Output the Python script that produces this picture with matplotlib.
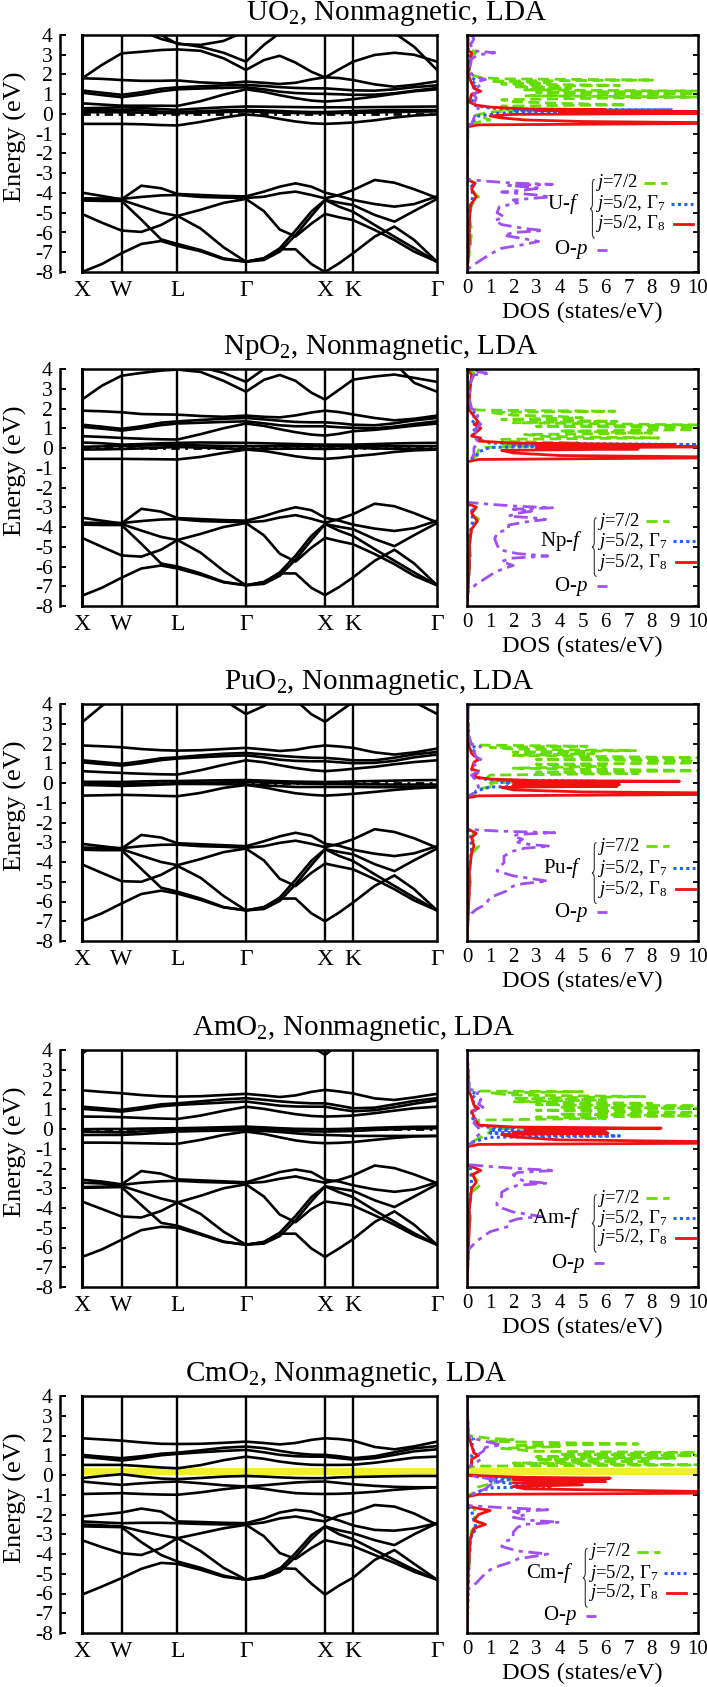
import matplotlib.pyplot as plt
from matplotlib.path import Path
from matplotlib.patches import PathPatch

plt.rcParams['font.family'] = ['Liberation Serif', 'DejaVu Serif']
plt.rcParams['mathtext.fontset'] = 'custom'
plt.rcParams['mathtext.rm'] = 'Liberation Serif'
plt.rcParams['mathtext.it'] = 'Liberation Serif:italic'
plt.rcParams['axes.unicode_minus'] = False

# k path X-W-L-G-X-K-G (2pi/a), sample points used for every band
KPTS = [0.0, 0.25, 0.5, 0.75, 1.0, 1.207, 1.5, 1.79, 2.073, 2.3,
        2.5, 2.7, 2.9, 3.073, 3.25, 3.427, 3.7, 3.95, 4.2, 4.488]
KSYM = [0.0, 0.5, 1.207, 2.073, 3.073, 3.427, 4.488]
KLAB = ['X', 'W', 'L', 'Γ', 'X', 'K', 'Γ']

TITLES = ['UO$_2$, Nonmagnetic, LDA', 'NpO$_2$, Nonmagnetic, LDA',
          'PuO$_2$, Nonmagnetic, LDA', 'AmO$_2$, Nonmagnetic, LDA',
          'CmO$_2$, Nonmagnetic, LDA']
ELEMS = ['U', 'Np', 'Pu', 'Am', 'Cm']
CM_GAP = (0.0, 0.37)

# ---------------- UO2 ----------------
UO2_VB = [
    [-3.98, -4.15, -4.32, -3.63, -3.76, -4.05, -4.10, -4.15, -4.17, -3.93, -3.68, -3.51, -3.68, -3.98, -4.15, -4.35, -4.56, -4.69, -4.56, -4.17],
    [-4.27, -4.28, -4.30, -4.20, -4.12, -4.10, -4.20, -4.23, -4.25, -4.19, -4.02, -3.93, -4.10, -4.27, -4.10, -3.85, -3.34, -3.48, -3.81, -4.25],
    [-4.35, -4.36, -4.35, -4.68, -5.00, -5.16, -4.85, -4.50, -4.30, -4.92, -5.85, -6.20, -5.55, -5.06, -5.23, -5.37, -5.87, -6.38, -6.97, -7.48],
    [-4.38, -4.40, -4.40, -5.35, -6.35, -6.58, -6.89, -7.31, -7.48, -7.31, -6.80, -5.90, -4.94, -4.35, -4.49, -4.61, -5.11, -5.45, -4.91, -4.30],
    [-5.06, -5.50, -5.90, -5.97, -5.62, -5.16, -5.80, -6.75, -7.48, -7.39, -6.97, -6.13, -5.16, -4.35, -4.69, -4.95, -5.62, -6.21, -6.80, -7.48],
    [-8.00, -7.60, -7.05, -6.58, -6.43, -6.68, -6.95, -7.35, -7.48, -7.30, -6.85, -6.85, -7.60, -8.00, -7.56, -7.05, -6.21, -5.70, -6.38, -7.48],
]
UO2_FB = [
    [1.81, 1.78, 1.72, 1.68, 1.68, 1.70, 1.60, 1.55, 1.64, 1.58, 1.52, 1.58, 1.75, 1.86, 1.82, 1.72, 1.50, 1.38, 1.48, 1.65],
    [1.19, 1.08, 0.97, 1.10, 1.28, 1.35, 1.40, 1.45, 1.47, 1.42, 1.36, 1.32, 1.30, 1.30, 1.25, 1.20, 1.18, 1.25, 1.36, 1.45],
    [1.08, 0.96, 0.85, 0.98, 1.15, 1.25, 1.29, 1.32, 1.35, 1.25, 1.13, 1.06, 1.03, 1.02, 1.00, 0.97, 0.98, 1.05, 1.18, 1.32],
    [0.54, 0.48, 0.42, 0.42, 0.42, 0.41, 0.65, 0.98, 1.25, 1.12, 0.95, 0.80, 0.68, 0.63, 0.68, 0.75, 0.88, 1.02, 1.15, 1.25],
    [0.29, 0.31, 0.34, 0.30, 0.25, 0.21, 0.28, 0.34, 0.38, 0.37, 0.36, 0.35, 0.34, 0.34, 0.34, 0.34, 0.35, 0.36, 0.37, 0.38],
    [0.20, 0.20, 0.20, 0.18, 0.12, 0.10, 0.14, 0.18, 0.20, 0.18, 0.15, 0.12, 0.10, 0.10, 0.12, 0.15, 0.18, 0.20, 0.20, 0.20],
    [0.09, 0.09, 0.09, 0.07, 0.05, 0.04, 0.06, 0.10, 0.13, 0.10, 0.07, 0.05, 0.04, 0.04, 0.05, 0.06, 0.08, 0.10, 0.12, 0.13],
    [-0.50, -0.50, -0.50, -0.52, -0.56, -0.58, -0.40, -0.18, -0.02, -0.10, -0.25, -0.38, -0.47, -0.50, -0.47, -0.43, -0.32, -0.18, -0.08, -0.02],
]
UO2_CB = [
    [1.80, 2.48, 3.07, 3.15, 3.24, 3.27, 3.20, 2.82, 2.23, 2.73, 2.95, 2.60, 2.14, 1.85, 2.26, 2.65, 2.99, 3.10, 3.00, 2.65],
    [5.20, 5.00, 4.70, 4.20, 3.80, 3.58, 3.40, 3.10, 2.65, 3.50, 4.10, 4.80, 5.10, 5.20, 5.00, 4.80, 4.50, 4.10, 3.40, 2.23],
    [6.00, 5.60, 5.20, 4.60, 4.00, 3.54, 3.50, 3.70, 4.20, 4.80, 5.30, 5.60, 5.80, 6.00, 5.80, 5.50, 5.00, 4.60, 4.30, 4.20],
]
UO2_J72 = [(4.0, 0.05), (3.3, 0.1), (3.1, 0.4), (2.9, 0.1), (2.0, 0.1), (1.85, 0.6), (1.78, 1.5), (1.72, 8.1),
           (1.66, 1.0), (1.58, 3.6), (1.52, 1.5), (1.45, 6.6), (1.38, 2.0), (1.30, 4.5), (1.22, 2.5), (1.16, 10.5),
           (1.10, 3.0), (1.04, 10.5), (0.98, 8.4), (0.92, 2.5), (0.86, 10.5), (0.80, 5.8), (0.72, 1.5), (0.62, 2.0),
           (0.54, 4.0), (0.46, 6.9), (0.40, 1.5), (0.32, 2.5), (0.25, 1.5), (0.20, 4.7), (0.12, 1.2), (0.05, 0.8),
           (-0.05, 0.4), (-0.3, 1.0), (-0.45, 0.3), (-0.6, 0.05), (-3.3, 0.0), (-3.5, 0.3), (-3.8, 0.15), (-4.2, 0.5),
           (-4.6, 0.2), (-5.2, 0.1), (-5.9, 0.2), (-6.6, 0.15), (-7.5, 0.05), (-8.0, 0.0)]
UO2_G7 = [(4.0, 0.0), (3.2, 0.05), (1.9, 0.1), (1.7, 0.4), (1.5, 0.2), (1.3, 0.5), (1.1, 0.3), (0.8, 0.2),
          (0.45, 0.3), (0.3, 1.0), (0.24, 2.5), (0.21, 8.9), (0.18, 2.0), (0.12, 4.5), (0.05, 1.5), (-0.1, 0.5),
          (-0.3, 0.3), (-0.5, 0.2), (-0.65, 0.0), (-3.3, 0.0), (-3.6, 0.2), (-4.2, 0.25), (-5.0, 0.1), (-6.5, 0.1),
          (-8.0, 0.0)]
UO2_G8 = [(4.0, 0.0), (3.2, 0.05), (3.1, 0.2), (2.0, 0.05), (1.7, 0.15), (1.3, 0.3), (1.15, 0.6), (1.0, 0.2),
          (0.6, 0.1), (0.45, 0.4), (0.35, 1.0), (0.26, 2.5), (0.22, 6.0), (0.18, 3.0), (0.12, 10.5), (0.08, 4.0),
          (0.03, 10.5), (-0.02, 2.0), (-0.10, 1.0), (-0.2, 1.5), (-0.3, 2.5), (-0.38, 5.0), (-0.44, 10.5),
          (-0.48, 10.5), (-0.55, 0.5), (-0.65, 0.0), (-3.3, 0.0), (-3.5, 0.35), (-3.8, 0.2), (-4.2, 0.4),
          (-4.6, 0.15), (-5.5, 0.1), (-6.5, 0.1), (-8.0, 0.0)]
UO2_OP = [(4.0, 0.2), (3.8, 0.3), (3.5, 0.15), (3.2, 0.3), (3.1, 1.2), (3.0, 0.5), (2.8, 0.2), (2.2, 0.1),
          (1.9, 0.3), (1.75, 0.8), (1.65, 0.5), (1.5, 0.6), (1.3, 0.4), (1.15, 0.5), (1.0, 0.3), (0.8, 0.4),
          (0.5, 0.3), (0.3, 0.5), (0.1, 0.4), (-0.2, 0.3), (-0.5, 0.2), (-0.6, 0.0), (-3.3, 0.0), (-3.4, 0.8),
          (-3.5, 2.0), (-3.56, 3.7), (-3.62, 1.8), (-3.75, 3.2), (-3.85, 2.5), (-3.95, 1.5), (-4.1, 3.0),
          (-4.2, 3.6), (-4.35, 2.0), (-4.5, 2.2), (-4.7, 1.4), (-5.0, 1.3), (-5.2, 1.6), (-5.4, 1.2), (-5.6, 1.5),
          (-5.8, 2.5), (-5.9, 3.3), (-6.0, 2.0), (-6.15, 1.6), (-6.3, 2.4), (-6.45, 3.1), (-6.6, 2.5), (-6.8, 1.5),
          (-7.1, 1.0), (-7.4, 0.6), (-7.7, 0.2), (-7.9, 0.0)]

# ---------------- NpO2 ----------------
NPO2_VB = [
    [-3.53, -3.68, -3.82, -3.08, -3.22, -3.55, -3.60, -3.65, -3.68, -3.45, -3.20, -3.00, -3.15, -3.53, -3.68, -3.88, -4.08, -4.20, -4.06, -3.68],
    [-3.78, -3.79, -3.80, -3.70, -3.62, -3.60, -3.70, -3.73, -3.76, -3.70, -3.52, -3.40, -3.58, -3.78, -3.60, -3.35, -2.82, -2.95, -3.30, -3.76],
    [-3.85, -3.86, -3.85, -4.18, -4.50, -4.66, -4.35, -4.00, -3.80, -4.42, -5.35, -5.75, -5.05, -4.55, -4.72, -4.87, -5.37, -5.88, -6.47, -6.95],
    [-3.88, -3.90, -3.90, -4.85, -5.85, -6.00, -6.35, -6.78, -6.95, -6.80, -6.30, -5.45, -4.45, -3.85, -3.99, -4.11, -4.61, -4.97, -4.41, -3.80],
    [-4.55, -5.00, -5.44, -5.50, -5.15, -4.66, -5.30, -6.22, -6.95, -6.88, -6.47, -5.65, -4.66, -3.85, -4.19, -4.45, -5.12, -5.71, -6.30, -6.95],
    [-7.48, -7.08, -6.57, -6.10, -5.95, -6.10, -6.42, -6.80, -6.95, -6.78, -6.35, -6.35, -7.08, -7.45, -7.04, -6.55, -5.71, -5.15, -5.85, -6.95],
]
NPO2_FB = [
    [1.89, 1.86, 1.81, 1.72, 1.70, 1.69, 1.62, 1.58, 1.64, 1.58, 1.55, 1.65, 1.80, 1.89, 1.82, 1.70, 1.52, 1.40, 1.48, 1.64],
    [1.18, 1.08, 0.97, 1.10, 1.28, 1.35, 1.42, 1.48, 1.52, 1.45, 1.38, 1.32, 1.30, 1.30, 1.25, 1.18, 1.15, 1.25, 1.40, 1.52],
    [1.07, 0.98, 0.88, 1.00, 1.16, 1.24, 1.28, 1.32, 1.35, 1.25, 1.15, 1.10, 1.10, 1.10, 1.05, 1.02, 1.00, 1.08, 1.22, 1.35],
    [0.60, 0.56, 0.51, 0.47, 0.44, 0.43, 0.70, 1.00, 1.24, 1.12, 0.95, 0.80, 0.68, 0.63, 0.72, 0.85, 0.92, 1.02, 1.13, 1.24],
    [0.28, 0.24, 0.17, 0.20, 0.24, 0.26, 0.28, 0.27, 0.26, 0.24, 0.22, 0.20, 0.18, 0.17, 0.17, 0.17, 0.20, 0.23, 0.25, 0.26],
    [0.06, 0.08, 0.10, 0.12, 0.14, 0.15, 0.13, 0.11, 0.09, 0.09, 0.09, 0.09, 0.09, 0.09, 0.10, 0.12, 0.10, 0.09, 0.09, 0.09],
    [-0.08, -0.07, -0.05, -0.02, 0.02, 0.05, 0.02, -0.02, -0.05, -0.05, -0.04, -0.03, -0.04, -0.05, -0.03, 0.00, -0.02, -0.04, -0.05, -0.05],
    [-0.55, -0.55, -0.55, -0.56, -0.57, -0.58, -0.45, -0.25, -0.08, -0.15, -0.28, -0.42, -0.52, -0.55, -0.50, -0.42, -0.32, -0.20, -0.12, -0.08],
]
NPO2_CB = [
    [2.45, 3.15, 3.66, 3.80, 3.92, 3.97, 3.85, 3.40, 2.85, 3.45, 3.70, 3.40, 2.80, 2.45, 2.95, 3.46, 3.62, 3.72, 3.55, 3.35],
    [5.80, 5.50, 5.20, 4.80, 4.50, 4.30, 4.10, 3.80, 3.35, 4.00, 4.60, 5.00, 5.50, 5.80, 5.50, 5.20, 4.80, 4.30, 3.30, 2.85],
]
NPO2_J72 = [(4.0, 0.05), (3.8, 0.3), (3.6, 0.1), (2.0, 0.1), (1.92, 0.5), (1.86, 6.4), (1.8, 1.0), (1.66, 2.0),
            (1.6, 4.0), (1.52, 5.0), (1.45, 1.5), (1.35, 6.5), (1.28, 2.0), (1.16, 10.5), (1.10, 3.0), (1.02, 10.5),
            (0.93, 10.5), (0.86, 4.0), (0.76, 8.0), (0.68, 2.5), (0.58, 3.5), (0.51, 8.3), (0.44, 1.5), (0.32, 2.0),
            (0.26, 4.8), (0.18, 1.5), (0.10, 4.0), (0.03, 0.8), (-0.1, 0.5), (-0.4, 0.4), (-0.55, 0.2), (-0.65, 0.0),
            (-2.8, 0.0), (-3.0, 0.4), (-3.3, 0.2), (-3.6, 0.5), (-4.0, 0.2), (-4.6, 0.1), (-5.5, 0.15), (-6.0, 0.1),
            (-7.0, 0.05), (-8.0, 0.0)]
NPO2_G7 = [(4.0, 0.0), (1.9, 0.1), (1.75, 0.4), (1.4, 0.2), (1.1, 0.5), (0.8, 0.2), (0.5, 0.3), (0.25, 1.0),
           (0.17, 10.5), (0.13, 2.0), (0.10, 4.2), (0.03, 1.0), (-0.2, 0.5), (-0.45, 0.4), (-0.6, 0.0), (-2.8, 0.0),
           (-3.1, 0.2), (-3.7, 0.25), (-4.5, 0.1), (-6.0, 0.1), (-8.0, 0.0)]
NPO2_G8 = [(4.0, 0.0), (3.7, 0.2), (2.0, 0.05), (1.3, 0.5), (1.2, 0.3), (1.0, 0.6), (0.6, 0.2), (0.5, 0.6),
           (0.35, 0.5), (0.25, 2.0), (0.17, 9.0), (0.12, 3.0), (0.06, 10.5), (0.0, 3.0), (-0.05, 7.4), (-0.12, 1.5),
           (-0.25, 2.0), (-0.38, 4.0), (-0.45, 10.5), (-0.5, 10.5), (-0.58, 0.5), (-0.7, 0.0), (-2.8, 0.0),
           (-3.0, 0.4), (-3.3, 0.2), (-3.7, 0.45), (-4.1, 0.2), (-5.0, 0.1), (-6.0, 0.1), (-8.0, 0.0)]
NPO2_OP = [(4.0, 0.3), (3.85, 0.5), (3.78, 1.0), (3.7, 0.3), (3.3, 0.15), (2.5, 0.1), (2.0, 0.2), (1.8, 0.5),
           (1.4, 0.4), (1.2, 0.6), (1.0, 0.4), (0.6, 0.3), (0.3, 0.5), (0.0, 0.3), (-0.3, 0.3), (-0.55, 0.2),
           (-0.65, 0.0), (-2.75, 0.0), (-2.85, 1.0), (-2.95, 2.2), (-3.03, 3.7), (-3.1, 2.0), (-3.2, 2.8),
           (-3.3, 2.2), (-3.45, 1.8), (-3.55, 3.0), (-3.62, 3.4), (-3.75, 2.5), (-3.9, 1.8), (-4.1, 1.8),
           (-4.3, 1.3), (-4.6, 1.2), (-4.9, 1.3), (-5.15, 1.4), (-5.35, 2.2), (-5.47, 3.5), (-5.58, 1.9),
           (-5.75, 1.5), (-5.95, 2.0), (-6.1, 1.6), (-6.3, 1.2), (-6.6, 0.8), (-6.9, 0.4), (-7.2, 0.1), (-7.4, 0.0)]

# ---------------- PuO2 ----------------
PUO2_VB = [
    [-3.08, -3.20, -3.32, -2.63, -2.76, -3.05, -3.10, -3.15, -3.20, -2.95, -2.70, -2.52, -2.68, -3.08, -3.18, -3.38, -3.58, -3.70, -3.56, -3.20],
    [-3.27, -3.28, -3.30, -3.20, -3.13, -3.12, -3.20, -3.23, -3.28, -3.20, -3.03, -2.92, -3.08, -3.25, -3.08, -2.85, -2.34, -2.48, -2.80, -3.28],
    [-3.35, -3.36, -3.35, -3.68, -4.00, -4.16, -3.85, -3.50, -3.32, -3.92, -4.85, -5.22, -4.55, -4.08, -4.23, -4.37, -4.87, -5.38, -5.95, -6.45],
    [-3.38, -3.40, -3.40, -4.35, -5.30, -5.50, -5.85, -6.28, -6.45, -6.30, -5.80, -4.90, -3.94, -3.35, -3.49, -3.61, -4.11, -4.46, -3.91, -3.32],
    [-4.12, -4.55, -4.97, -5.00, -4.65, -4.20, -4.80, -5.72, -6.45, -6.38, -5.97, -5.13, -4.16, -3.35, -3.69, -3.95, -4.62, -5.21, -5.80, -6.45],
    [-7.00, -6.60, -6.10, -5.62, -5.45, -5.60, -5.92, -6.30, -6.45, -6.28, -5.85, -5.85, -6.60, -7.00, -6.56, -6.05, -5.21, -4.68, -5.38, -6.45],
]
PUO2_FB = [
    [1.90, 1.86, 1.81, 1.72, 1.66, 1.64, 1.66, 1.72, 1.78, 1.70, 1.62, 1.68, 1.82, 1.90, 1.85, 1.78, 1.55, 1.44, 1.55, 1.74],
    [1.15, 1.06, 0.97, 1.10, 1.25, 1.30, 1.40, 1.48, 1.52, 1.45, 1.38, 1.32, 1.28, 1.27, 1.22, 1.15, 1.15, 1.28, 1.45, 1.57],
    [1.05, 0.96, 0.88, 1.00, 1.16, 1.24, 1.30, 1.36, 1.40, 1.30, 1.18, 1.12, 1.10, 1.10, 1.05, 1.00, 1.02, 1.12, 1.30, 1.44],
    [0.60, 0.55, 0.51, 0.47, 0.44, 0.43, 0.65, 0.92, 1.15, 1.05, 0.90, 0.76, 0.65, 0.60, 0.65, 0.72, 0.82, 0.95, 1.06, 1.15],
    [0.06, 0.06, 0.05, 0.08, 0.10, 0.10, 0.12, 0.14, 0.15, 0.12, 0.09, 0.07, 0.06, 0.05, 0.06, 0.08, 0.10, 0.12, 0.14, 0.15],
    [-0.05, -0.05, -0.05, -0.04, -0.03, -0.02, 0.00, 0.03, 0.05, 0.03, 0.00, -0.02, -0.04, -0.05, -0.05, -0.06, -0.07, -0.08, -0.08, -0.08],
    [-0.10, -0.12, -0.15, -0.12, -0.08, -0.05, -0.05, -0.06, -0.08, -0.12, -0.16, -0.20, -0.20, -0.20, -0.20, -0.20, -0.21, -0.21, -0.21, -0.21],
    [-0.64, -0.62, -0.60, -0.62, -0.65, -0.67, -0.50, -0.25, -0.10, -0.22, -0.38, -0.52, -0.60, -0.64, -0.60, -0.55, -0.45, -0.35, -0.27, -0.21],
]
PUO2_CB = [
    [3.07, 3.90, 4.60, 4.90, 5.00, 5.00, 4.70, 4.20, 3.49, 3.90, 4.40, 4.20, 3.48, 3.10, 3.60, 4.10, 4.50, 4.50, 4.10, 3.50],
]
PUO2_J72 = [(4.0, 0.0), (2.0, 0.1), (1.92, 0.5), (1.86, 5.2), (1.8, 1.0), (1.72, 2.0), (1.64, 7.3), (1.56, 2.0),
            (1.48, 5.5), (1.40, 2.0), (1.27, 10.5), (1.20, 3.0), (1.10, 10.5), (1.02, 10.5), (0.95, 3.0), (0.85, 6.0),
            (0.75, 2.0), (0.62, 10.5), (0.55, 3.0), (0.48, 7.4), (0.40, 1.0), (0.2, 0.8), (0.12, 1.5), (0.08, 3.0),
            (0.0, 1.0), (-0.15, 1.2), (-0.3, 0.5), (-0.6, 0.3), (-0.7, 0.0), (-2.3, 0.0), (-2.5, 0.3), (-2.8, 0.2),
            (-3.2, 0.5), (-3.6, 0.2), (-4.5, 0.1), (-5.0, 0.15), (-6.0, 0.05), (-8.0, 0.0)]
PUO2_G7 = [(4.0, 0.0), (1.9, 0.1), (1.8, 0.4), (1.5, 0.2), (1.2, 0.5), (0.8, 0.2), (0.3, 0.3), (0.15, 1.0),
           (0.09, 5.6), (0.04, 1.5), (-0.05, 2.0), (-0.12, 5.9), (-0.2, 1.0), (-0.4, 0.4), (-0.6, 0.3), (-0.7, 0.0),
           (-2.3, 0.0), (-2.6, 0.15), (-3.3, 0.2), (-4.5, 0.1), (-8.0, 0.0)]
PUO2_G8 = [(4.0, 0.0), (2.0, 0.05), (1.5, 0.2), (1.2, 0.5), (1.05, 0.3), (0.7, 0.2), (0.6, 0.5), (0.3, 0.3),
           (0.2, 1.0), (0.12, 3.0), (0.09, 9.2), (0.04, 2.0), (-0.02, 4.0), (-0.08, 6.6), (-0.12, 2.0), (-0.16, 6.5),
           (-0.22, 1.5), (-0.35, 2.0), (-0.45, 5.0), (-0.50, 10.5), (-0.58, 10.5), (-0.65, 0.5), (-0.75, 0.0),
           (-2.3, 0.0), (-2.55, 0.4), (-2.75, 0.2), (-3.2, 0.3), (-3.5, 0.2), (-4.5, 0.1), (-5.5, 0.1), (-8.0, 0.0)]
PUO2_OP = [(4.0, 0.1), (3.8, 0.05), (2.5, 0.05), (1.95, 0.2), (1.85, 0.6), (1.6, 0.3), (1.3, 0.4), (1.2, 0.6),
           (1.0, 0.3), (0.6, 0.5), (0.4, 0.2), (0.1, 0.4), (-0.2, 0.5), (-0.5, 0.3), (-0.7, 0.0), (-2.35, 0.0),
           (-2.44, 1.5), (-2.52, 3.8), (-2.6, 2.2), (-2.69, 2.0), (-2.85, 2.4), (-3.0, 2.2), (-3.11, 2.7),
           (-3.2, 3.6), (-3.3, 2.5), (-3.45, 2.0), (-3.7, 1.6), (-4.04, 1.6), (-4.25, 1.4), (-4.46, 1.3),
           (-4.7, 2.0), (-4.88, 3.0), (-4.97, 3.5), (-5.1, 2.4), (-5.22, 2.0), (-5.35, 1.8), (-5.47, 1.7),
           (-5.8, 1.0), (-6.15, 0.8), (-6.4, 0.4), (-6.6, 0.2), (-7.0, 0.0)]

# ---------------- AmO2 ----------------
AMO2_VB = [
    [-2.57, -2.66, -2.80, -2.13, -2.26, -2.55, -2.60, -2.65, -2.70, -2.43, -2.18, -2.05, -2.18, -2.57, -2.66, -2.85, -3.06, -3.18, -3.06, -2.70],
    [-2.72, -2.76, -2.83, -2.72, -2.65, -2.62, -2.68, -2.71, -2.74, -2.68, -2.52, -2.40, -2.58, -2.72, -2.58, -2.35, -1.85, -1.98, -2.30, -2.74],
    [-2.94, -2.92, -2.88, -3.20, -3.52, -3.72, -3.38, -3.00, -2.80, -3.42, -4.33, -4.72, -4.05, -3.67, -3.76, -3.88, -4.37, -4.85, -5.38, -5.86],
    [-2.98, -2.96, -2.94, -3.85, -4.75, -4.90, -5.30, -5.70, -5.86, -5.72, -5.25, -4.40, -3.45, -2.90, -3.02, -3.13, -3.61, -3.95, -3.42, -2.80],
    [-3.67, -4.05, -4.43, -4.48, -4.15, -3.72, -4.30, -5.20, -5.86, -5.80, -5.42, -4.62, -3.66, -2.90, -3.20, -3.45, -4.12, -4.70, -5.28, -5.86],
    [-6.48, -6.10, -5.61, -5.12, -4.95, -5.00, -5.35, -5.72, -5.86, -5.72, -5.30, -5.30, -6.05, -6.48, -6.05, -5.58, -4.71, -4.17, -4.85, -5.86],
]
AMO2_FB = [
    [1.96, 1.88, 1.81, 1.72, 1.66, 1.64, 1.66, 1.72, 1.78, 1.70, 1.62, 1.70, 1.88, 1.98, 1.90, 1.80, 1.55, 1.47, 1.60, 1.78],
    [1.13, 1.05, 0.97, 1.10, 1.25, 1.30, 1.40, 1.50, 1.56, 1.48, 1.40, 1.34, 1.30, 1.30, 1.18, 1.05, 1.08, 1.25, 1.42, 1.56],
    [1.02, 0.95, 0.88, 1.00, 1.15, 1.22, 1.28, 1.34, 1.39, 1.28, 1.18, 1.14, 1.13, 1.13, 1.00, 0.90, 0.95, 1.10, 1.28, 1.45],
    [0.63, 0.62, 0.60, 0.56, 0.53, 0.51, 0.68, 0.92, 1.13, 1.02, 0.88, 0.75, 0.66, 0.63, 0.65, 0.68, 0.80, 0.93, 1.05, 1.13],
    [-0.01, 0.00, 0.00, 0.02, 0.03, 0.04, 0.06, 0.09, 0.12, 0.08, 0.04, 0.01, 0.00, -0.01, 0.00, 0.02, 0.06, 0.09, 0.11, 0.12],
    [-0.13, -0.15, -0.17, -0.12, -0.08, -0.05, -0.02, 0.01, 0.04, 0.00, -0.05, -0.10, -0.12, -0.13, -0.12, -0.10, -0.05, -0.01, 0.02, 0.04],
    [-0.30, -0.30, -0.30, -0.25, -0.18, -0.13, -0.10, -0.08, -0.06, -0.10, -0.15, -0.22, -0.28, -0.30, -0.32, -0.35, -0.35, -0.35, -0.35, -0.35],
    [-0.69, -0.69, -0.70, -0.72, -0.74, -0.75, -0.55, -0.30, -0.13, -0.25, -0.42, -0.58, -0.68, -0.72, -0.70, -0.66, -0.55, -0.45, -0.38, -0.35],
]
AMO2_CB = [
    [3.80, 4.60, 5.20, 5.50, 5.60, 5.60, 5.30, 4.80, 4.30, 4.60, 5.00, 4.80, 4.20, 3.75, 4.30, 4.90, 5.20, 5.10, 4.80, 4.30],
]
AMO2_J72 = [(4.0, 0.0), (2.0, 0.1), (1.92, 0.6), (1.89, 5.0), (1.82, 1.0), (1.72, 2.0), (1.64, 7.7), (1.55, 2.0),
            (1.47, 6.0), (1.38, 2.0), (1.30, 8.0), (1.23, 3.0), (1.17, 10.5), (1.10, 4.0), (1.05, 10.5), (0.95, 3.0),
            (0.83, 10.5), (0.75, 4.0), (0.66, 10.5), (0.60, 3.0), (0.54, 6.0), (0.45, 0.5), (0.15, 0.5), (0.05, 2.5),
            (0.0, 1.0), (-0.15, 1.0), (-0.3, 0.8), (-0.6, 0.3), (-0.8, 0.0), (-1.8, 0.0), (-2.0, 0.3), (-2.3, 0.2),
            (-2.8, 0.6), (-3.2, 0.2), (-4.0, 0.1), (-4.5, 0.15), (-5.5, 0.05), (-8.0, 0.0)]
AMO2_G7 = [(4.0, 0.0), (1.9, 0.1), (1.8, 0.4), (1.5, 0.2), (1.2, 0.4), (0.8, 0.2), (0.3, 0.3), (0.1, 0.8),
           (0.04, 2.0), (-0.05, 1.0), (-0.13, 3.0), (-0.2, 1.0), (-0.3, 2.0), (-0.35, 6.6), (-0.42, 1.0), (-0.6, 0.4),
           (-0.8, 0.0), (-1.8, 0.0), (-2.0, 0.15), (-2.8, 0.2), (-4.0, 0.1), (-8.0, 0.0)]
AMO2_G8 = [(4.0, 0.0), (2.0, 0.05), (1.6, 0.2), (1.2, 0.3), (1.05, 0.5), (0.9, 0.2), (0.6, 0.3), (0.2, 0.5),
           (0.1, 2.0), (0.04, 8.4), (-0.02, 2.5), (-0.08, 4.0), (-0.13, 6.0), (-0.17, 2.0), (-0.21, 6.1), (-0.28, 1.5),
           (-0.4, 2.0), (-0.55, 4.0), (-0.64, 10.5), (-0.72, 10.5), (-0.78, 0.5), (-0.9, 0.0), (-1.8, 0.0),
           (-1.95, 0.3), (-2.1, 0.6), (-2.3, 0.25), (-2.7, 0.4), (-3.0, 0.2), (-4.0, 0.1), (-5.0, 0.1), (-8.0, 0.0)]
AMO2_OP = [(4.0, 0.0), (2.0, 0.1), (1.9, 0.5), (1.7, 0.4), (1.5, 0.6), (1.25, 0.5), (1.1, 0.7), (0.9, 0.3),
           (0.6, 0.4), (0.3, 0.3), (0.05, 0.5), (-0.2, 0.6), (-0.4, 0.4), (-0.7, 0.2), (-0.85, 0.0), (-1.8, 0.0),
           (-1.9, 1.0), (-2.0, 2.2), (-2.1, 3.8), (-2.2, 2.2), (-2.32, 2.0), (-2.5, 2.2), (-2.65, 2.5), (-2.74, 3.5),
           (-2.85, 2.2), (-3.0, 1.8), (-3.2, 1.5), (-3.42, 1.5), (-3.7, 1.3), (-3.92, 1.3), (-4.2, 2.0),
           (-4.35, 2.8), (-4.43, 3.2), (-4.55, 2.2), (-4.7, 1.8), (-4.93, 1.8), (-5.2, 1.0), (-5.44, 0.7),
           (-5.7, 0.4), (-5.94, 0.2), (-6.2, 0.0)]

# ---------------- CmO2 ----------------
CMO2_VB = [
    [-2.10, -2.00, -1.90, -1.70, -1.85, -2.35, -2.38, -2.42, -2.44, -2.20, -1.90, -1.76, -1.85, -2.10, -2.30, -2.55, -2.78, -2.82, -2.70, -2.44],
    [-2.35, -2.40, -2.44, -2.42, -2.42, -2.44, -2.48, -2.50, -2.52, -2.40, -2.20, -2.10, -2.25, -2.35, -2.05, -1.90, -1.52, -1.60, -1.95, -2.52],
    [-2.50, -2.55, -2.60, -2.85, -3.05, -3.20, -2.95, -2.70, -2.52, -3.10, -3.95, -4.25, -3.70, -3.30, -3.45, -3.60, -4.05, -4.45, -4.90, -5.30],
    [-2.60, -2.62, -2.64, -3.40, -4.05, -4.38, -4.70, -5.10, -5.30, -5.15, -4.75, -3.95, -3.05, -2.60, -2.80, -2.95, -3.30, -3.55, -3.00, -2.44],
    [-3.30, -3.65, -3.96, -4.05, -3.70, -3.20, -3.85, -4.70, -5.30, -5.20, -4.90, -4.15, -3.25, -2.60, -3.00, -3.25, -3.80, -4.30, -4.80, -5.30],
    [-6.06, -5.65, -5.22, -4.75, -4.45, -4.50, -4.80, -5.15, -5.30, -5.10, -4.72, -4.75, -5.50, -6.06, -5.60, -5.20, -4.30, -3.80, -4.50, -5.30],
]
CMO2_FB = [
    [1.86, 1.80, 1.74, 1.65, 1.58, 1.57, 1.58, 1.63, 1.69, 1.62, 1.55, 1.62, 1.78, 1.86, 1.82, 1.74, 1.42, 1.30, 1.45, 1.69],
    [1.02, 0.93, 0.85, 0.95, 1.08, 1.13, 1.25, 1.38, 1.44, 1.36, 1.22, 1.10, 1.03, 1.02, 0.95, 0.85, 0.95, 1.15, 1.35, 1.46],
    [0.93, 0.83, 0.73, 0.85, 1.00, 1.07, 1.15, 1.22, 1.27, 1.15, 1.02, 0.95, 0.93, 0.93, 0.85, 0.78, 0.85, 1.02, 1.20, 1.30],
    [0.51, 0.51, 0.51, 0.45, 0.38, 0.34, 0.50, 0.75, 0.93, 0.82, 0.68, 0.58, 0.52, 0.51, 0.51, 0.52, 0.62, 0.75, 0.88, 0.93],
    [-0.16, -0.05, 0.04, -0.08, -0.18, -0.21, -0.15, -0.08, -0.05, -0.08, -0.12, -0.15, -0.16, -0.16, -0.12, -0.10, -0.08, -0.06, -0.05, -0.05],
    [-0.33, -0.42, -0.50, -0.42, -0.36, -0.33, -0.42, -0.52, -0.58, -0.52, -0.45, -0.38, -0.34, -0.33, -0.40, -0.47, -0.55, -0.60, -0.62, -0.62],
    [-0.96, -0.94, -0.92, -0.96, -0.99, -1.00, -0.88, -0.72, -0.60, -0.70, -0.82, -0.92, -0.95, -0.96, -0.95, -0.92, -0.85, -0.75, -0.68, -0.62],
]
CMO2_CB = []
CMO2_J72 = [(4.0, 0.0), (2.0, 0.05), (1.85, 1.0), (1.8, 2.0), (1.7, 1.0), (1.57, 7.4), (1.5, 2.0), (1.44, 4.0),
            (1.35, 1.5), (1.20, 3.0), (1.13, 10.5), (1.05, 4.0), (0.98, 10.5), (0.92, 3.0), (0.85, 9.0), (0.78, 3.0),
            (0.68, 8.0), (0.60, 2.0), (0.51, 10.5), (0.45, 0.5), (0.38, 0.0), (0.0, 0.0), (-0.05, 0.8), (-0.12, 1.5),
            (-0.21, 3.0), (-0.3, 1.5), (-0.45, 1.0), (-0.6, 0.5), (-0.9, 0.3), (-1.05, 0.0), (-1.5, 0.0), (-1.7, 0.3),
            (-2.0, 0.4), (-2.2, 0.3), (-2.5, 0.6), (-2.8, 0.2), (-3.5, 0.1), (-4.0, 0.15), (-5.0, 0.05), (-8.0, 0.0)]
CMO2_G7 = [(4.0, 0.0), (1.9, 0.05), (1.8, 0.3), (1.5, 0.2), (1.2, 0.3), (1.0, 0.2), (0.5, 0.2), (0.38, 0.0),
           (0.0, 0.0), (-0.1, 0.5), (-0.2, 2.5), (-0.3, 1.0), (-0.45, 2.0), (-0.58, 3.7), (-0.65, 1.0), (-0.8, 0.6),
           (-0.95, 0.3), (-1.1, 0.0), (-1.5, 0.0), (-1.8, 0.2), (-2.3, 0.3), (-2.7, 0.4), (-3.2, 0.15), (-4.0, 0.1),
           (-8.0, 0.0)]
CMO2_G8 = [(4.0, 0.0), (2.0, 0.05), (1.5, 0.2), (1.1, 0.3), (1.0, 0.5), (0.8, 0.2), (0.5, 0.2), (0.38, 0.0),
           (0.0, 0.0), (-0.05, 0.8), (-0.12, 2.5), (-0.16, 6.2), (-0.22, 2.0), (-0.28, 3.0), (-0.33, 6.0), (-0.4, 2.0),
           (-0.5, 5.0), (-0.58, 2.0), (-0.7, 2.5), (-0.84, 10.5), (-0.92, 10.5), (-0.98, 0.5), (-1.1, 0.0),
           (-1.5, 0.0), (-1.65, 0.3), (-1.8, 1.0), (-2.0, 0.5), (-2.3, 0.3), (-2.5, 0.8), (-2.7, 0.3), (-3.2, 0.15),
           (-4.0, 0.1), (-5.0, 0.05), (-8.0, 0.0)]
CMO2_OP = [(4.0, 0.0), (2.0, 0.05), (1.85, 0.3), (1.7, 0.8), (1.52, 1.5), (1.4, 0.8), (1.2, 0.7), (1.05, 0.5),
           (0.8, 0.6), (0.55, 0.3), (0.38, 0.0), (0.0, 0.0), (-0.1, 0.5), (-0.3, 1.5), (-0.5, 1.0), (-0.7, 0.8),
           (-0.9, 0.4), (-1.1, 0.0), (-1.55, 0.0), (-1.65, 1.5), (-1.76, 3.5), (-1.85, 2.0), (-2.02, 2.5),
           (-2.15, 2.0), (-2.3, 2.8), (-2.39, 4.0), (-2.5, 2.5), (-2.64, 2.2), (-2.9, 2.0), (-3.2, 2.0), (-3.4, 1.6),
           (-3.62, 1.5), (-3.85, 2.2), (-4.0, 3.5), (-4.1, 3.0), (-4.25, 2.2), (-4.38, 2.0), (-4.6, 1.4),
           (-4.8, 1.0), (-5.1, 0.7), (-5.47, 0.4), (-5.7, 0.15), (-5.85, 0.0)]

PANELS = [
    (UO2_VB, UO2_FB, UO2_CB, UO2_J72, UO2_G7, UO2_G8, UO2_OP),
    (NPO2_VB, NPO2_FB, NPO2_CB, NPO2_J72, NPO2_G7, NPO2_G8, NPO2_OP),
    (PUO2_VB, PUO2_FB, PUO2_CB, PUO2_J72, PUO2_G7, PUO2_G8, PUO2_OP),
    (AMO2_VB, AMO2_FB, AMO2_CB, AMO2_J72, AMO2_G7, AMO2_G8, AMO2_OP),
    (CMO2_VB, CMO2_FB, CMO2_CB, CMO2_J72, CMO2_G7, CMO2_G8, CMO2_OP),
]

# line styles of the DOS components
STY = [dict(color='#66dd00', ls=(0, (4, 2)), lw=2.0),
       dict(color='#2060ff', ls=(0, (1, 1.1)), lw=2.2),
       dict(color='#ee1111', ls='-', lw=2.0),
       dict(color='#a050f0', ls=(0, (5, 2, 1.5, 2)), lw=2.0)]
LEGTXT = ['$j$=7/2', '$j$=5/2, Γ$_7$', '$j$=5/2, Γ$_8$']

# layout (pixels of the 707x1687 canvas)
W, H = 707, 1687
TOPS = [35, 369, 704, 1050, 1396]
PH = 237
TITLE_X = [396, 381, 379, 354, 346]
LEG_Y = [(0.376, 0.287, 0.203, 0.093), (0.357, 0.273, 0.185, 0.084), (0.400, 0.307, 0.218, 0.122),
         (0.375, 0.290, 0.207, 0.100), (0.342, 0.253, 0.169, 0.072)]
LEG_TX = [0.555, 0.563, 0.563, 0.563, 0.524]
LEG_FX = [0.485, 0.500, 0.500, 0.490, 0.460]
LEG_OX = [0.377, 0.377, 0.377, 0.364, 0.330]


def brace(ax, x, y0, y1, w=0.02):
    h = y1 - y0
    ym = (y0 + y1) / 2
    xm = x + w * 0.5
    verts = [(x + w, y1), (xm, y1), (xm, y1 - 0.05 * h), (xm, y1 - 0.1 * h),
             (xm, ym + 0.08 * h),
             (xm, ym + 0.03 * h), (x + 0.2 * w, ym), (x, ym),
             (x + 0.2 * w, ym), (xm, ym - 0.03 * h), (xm, ym - 0.08 * h),
             (xm, y0 + 0.1 * h),
             (xm, y0 + 0.05 * h), (xm, y0), (x + w, y0)]
    C = Path.CURVE4
    codes = [Path.MOVETO, C, C, C, Path.LINETO, C, C, C, C, C, C, Path.LINETO, C, C, C]
    ax.add_patch(PathPatch(Path(verts, codes), fc='none', ec='#333333', lw=0.8,
                           transform=ax.transAxes, clip_on=False))


fig = plt.figure(figsize=(W / 100, H / 100), dpi=100)

for i, (vb, fb, cb, j72, g7, g8, op) in enumerate(PANELS):
    top = TOPS[i]
    bot = 1 - (top + PH) / H
    axb = fig.add_axes([82 / W, bot, 355 / W, PH / H])
    axd = fig.add_axes([467 / W, bot, 231 / W, PH / H])

    # band structure
    if i == 4:
        axb.axhspan(CM_GAP[0], CM_GAP[1], color='#eeee33', lw=0, zorder=0.5)
    for band in vb + fb + cb:
        axb.plot(KPTS, band, color='k', lw=1.9, zorder=2)
    if i < 4:
        axb.axhline(0, color='k', lw=2.0, ls=(0, (3, 2, 1, 2)), zorder=2)
    for k in KSYM[1:-1]:
        axb.axvline(k, color='k', lw=1.7, zorder=3)
    axb.axvline(0, color='k', lw=2.2, zorder=3, clip_on=False)
    axb.set_xlim(0, KSYM[-1])
    axb.set_ylim(-8, 4)
    axb.set_xticks(KSYM, KLAB)
    axb.set_yticks(range(-8, 5))
    axb.tick_params(axis='x', length=0, labelsize=17, pad=6)
    axb.tick_params(axis='y', direction='in', length=4.5, width=1.4, labelsize=15.5, pad=5)
    axb.spines['left'].set_position(('outward', 16))
    for s in axb.spines.values():
        s.set_linewidth(1.8)
    fig.text(15 / W, 1 - (top + 102) / H, 'Energy (eV)', rotation=90,
             ha='center', va='center', fontsize=19)

    # DOS panel
    if i == 4:
        axd.axhspan(CM_GAP[0], CM_GAP[1], color='#eeee33', lw=0, zorder=0.5)
    for ser, st in zip((j72, g7, g8, op), STY):
        e = [p[0] for p in ser]
        v = [p[1] for p in ser]
        axd.plot(v, e, **st)
    axd.set_xlim(0, 10)
    axd.set_ylim(-8, 4)
    axd.set_xticks(range(11))
    axd.yaxis.set_ticks_position('right')
    axd.set_yticks(range(-8, 5))
    axd.tick_params(axis='y', direction='in', length=3.5, width=1.3, labelright=False)
    axd.tick_params(axis='x', length=0, labelsize=15, pad=5)
    for s in axd.spines.values():
        s.set_linewidth(1.8)
    axd.text(0.5, -0.17, 'DOS (states/eV)', transform=axd.transAxes,
             ha='center', va='center', fontsize=17.5)

    # legend drawn as in the original (label, then sample)
    ly = LEG_Y[i]
    tx = LEG_TX[i]
    spans = [(tx + 0.21, tx + 0.31), (tx + 0.33, tx + 0.425), (tx + 0.34, tx + 0.425)]
    for n in range(3):
        axd.text(tx, ly[n], LEGTXT[n], transform=axd.transAxes, ha='left',
                 va='center', fontsize=13.5)
        axd.plot(spans[n], [ly[n], ly[n]], transform=axd.transAxes,
                 clip_on=False, **STY[n])
    axd.text(LEG_FX[i], ly[1], ELEMS[i] + '-$f$', transform=axd.transAxes,
             ha='right', va='center', fontsize=15)
    brace(axd, tx - 0.022, ly[2] - 0.06, ly[0] + 0.015)
    ox = LEG_OX[i]
    axd.text(ox, ly[3], 'O-$p$', transform=axd.transAxes, ha='left',
             va='center', fontsize=15)
    axd.plot([ox + 0.185, ox + 0.23], [ly[3], ly[3]], transform=axd.transAxes,
             clip_on=False, **STY[3])

    fig.text(TITLE_X[i] / W, 1 - (top - 15) / H, TITLES[i], ha='center',
             va='baseline', fontsize=21)

fig.savefig('out.png', dpi=100)
